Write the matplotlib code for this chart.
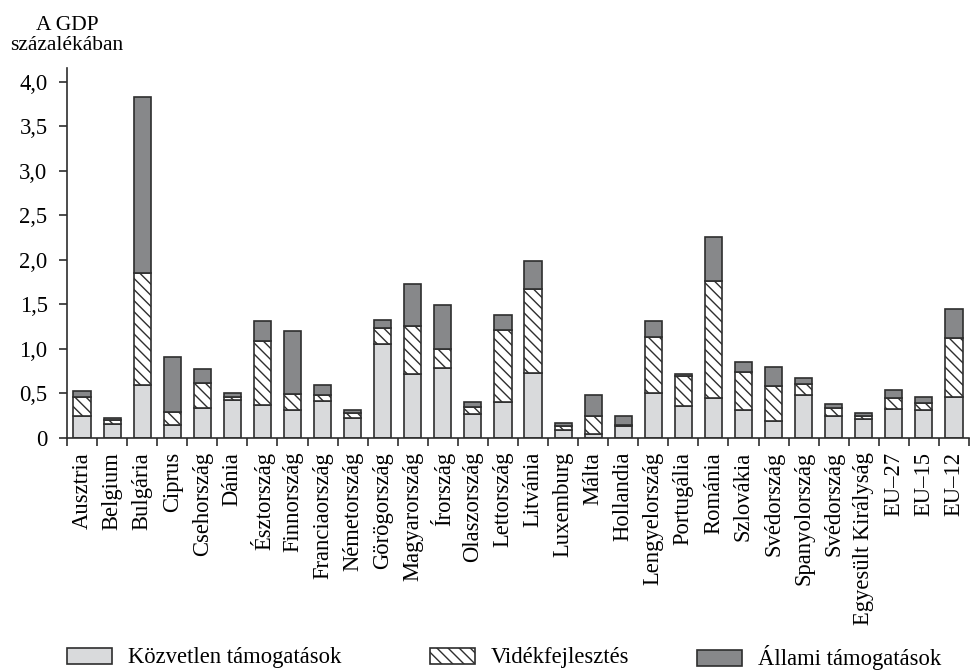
import matplotlib
matplotlib.use("Agg")
import matplotlib.pyplot as plt
from matplotlib.patches import Patch
import numpy as np

countries = ["Ausztria", "Belgium", "Bulgária", "Ciprus", "Csehország", "Dánia",
             "Észtország", "Finnország", "Franciaország", "Németország", "Görögország",
             "Magyarország", "Írország", "Olaszország", "Lettország", "Litvánia",
             "Luxemburg", "Málta", "Hollandia", "Lengyelország", "Portugália", "Románia",
             "Szlovákia", "Svédország", "Spanyolország", "Svédország",
             "Egyesült Királyság", "EU–27", "EU–15", "EU–12"]

direct = [0.25, 0.16, 0.60, 0.15, 0.34, 0.43, 0.37, 0.31, 0.42, 0.22, 1.06,
          0.72, 0.79, 0.27, 0.40, 0.73, 0.09, 0.04, 0.13, 0.50, 0.36, 0.45,
          0.31, 0.19, 0.48, 0.25, 0.21, 0.33, 0.31, 0.46]
rural = [0.21, 0.04, 1.25, 0.14, 0.28, 0.03, 0.72, 0.18, 0.06, 0.06, 0.18,
         0.54, 0.21, 0.08, 0.81, 0.94, 0.04, 0.21, 0.02, 0.63, 0.34, 1.31,
         0.43, 0.39, 0.13, 0.09, 0.04, 0.12, 0.08, 0.66]
state = [0.07, 0.03, 1.98, 0.62, 0.16, 0.05, 0.22, 0.71, 0.12, 0.03, 0.09,
         0.47, 0.49, 0.05, 0.17, 0.32, 0.04, 0.23, 0.10, 0.18, 0.02, 0.50,
         0.11, 0.22, 0.06, 0.04, 0.03, 0.09, 0.07, 0.33]

yticks = [0, 0.5, 1.0, 1.5, 2.0, 2.5, 3.0, 3.5, 4.0]
ytick_labels = ["0", "0,5", "1,0", "1,5", "2,0", "2,5", "3,0", "3,5", "4,0"]
legend_labels = ["Közvetlen támogatások", "Vidékfejlesztés", "Állami támogatások"]

plt.rcParams['font.family'] = ['Liberation Serif', 'DejaVu Serif']
plt.rcParams['hatch.linewidth'] = 1.0
plt.rcParams['hatch.color'] = '#222222'

FS = 16.3
LIGHT = '#d9dadc'
DARK = '#87888a'
EDGE = '#2e2e2e'

fig = plt.figure(figsize=(9.71, 6.70), dpi=100)
ax = fig.add_axes([67/971, 1-438/670, (969-67)/971, (438-68)/670])

x = np.arange(len(countries))
d = np.array(direct)
r = np.array(rural)
s = np.array(state)
w = 0.57
ax.bar(x, d, w, color=LIGHT, edgecolor=EDGE, linewidth=1.2)
ax.bar(x, r, w, bottom=d, color='white', edgecolor=EDGE, linewidth=1.2, hatch='\\\\\\')
ax.bar(x, s, w, bottom=d + r, color=DARK, edgecolor=EDGE, linewidth=1.2)

ax.set_xlim(-0.5, len(countries) - 0.5)
ax.set_ylim(0, 4.154)
ax.set_yticks(yticks)
ax.set_yticklabels(ytick_labels, fontsize=FS)
ax.set_xticks(x)
ax.set_xticklabels(countries, rotation=90, fontsize=FS)
ax.tick_params(axis='x', which='major', length=0, pad=10)
ax.set_xticks(np.arange(len(countries) + 1) - 0.5, minor=True)
ax.tick_params(axis='x', which='minor', length=6, width=1.2, color=EDGE)
ax.tick_params(axis='y', length=6, width=1.2, color=EDGE, pad=8)
for sp in ['top', 'right']:
    ax.spines[sp].set_visible(False)
for sp in ['left', 'bottom']:
    ax.spines[sp].set_linewidth(1.2)
    ax.spines[sp].set_color(EDGE)

fig.text(67/971, 1-16/670, "A GDP\nszázalékában", ha='center', va='top',
         fontsize=FS - 0.8, linespacing=1.1)

handles = [Patch(facecolor=LIGHT, edgecolor=EDGE, linewidth=1.2),
           Patch(facecolor='white', edgecolor=EDGE, linewidth=1.2, hatch='\\\\\\'),
           Patch(facecolor=DARK, edgecolor=EDGE, linewidth=1.2)]
xs = [67/971, 430/971, 697/971]
for h, lab, xx in zip(handles, legend_labels, xs):
    fig.legend([h], [lab], loc='center left', bbox_to_anchor=(xx, 1-658/670),
               frameon=False, fontsize=FS, handlelength=2.0, handleheight=0.72,
               handletextpad=0.68, borderpad=0, borderaxespad=0)

fig.savefig("out.png", dpi=100)
